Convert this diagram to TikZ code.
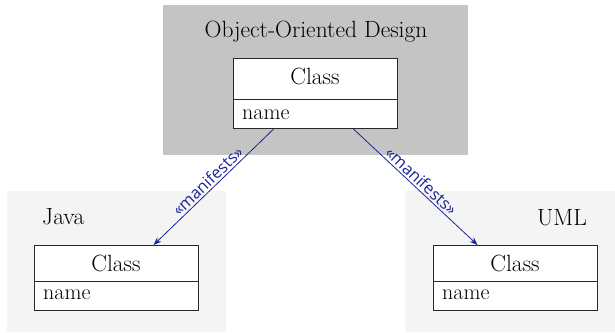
\documentclass[tikz,border=0pt]{standalone}
\usepackage{fontspec}
\newfontfamily\labelfont{Open Sans}
\usetikzlibrary{arrows.meta}
\definecolor{topbg}{RGB}{196,196,196}
\definecolor{sidebg}{RGB}{244,244,244}
\definecolor{mblue}{RGB}{28,36,150}
\definecolor{boxline}{RGB}{40,40,40}
\tikzset{
  classhead/.style={draw=boxline, line width=1.1pt, fill=white, minimum width=164pt, minimum height=41pt, inner sep=0pt, anchor=north west},
  classattr/.style={draw=boxline, line width=1.1pt, fill=white, minimum width=164pt, minimum height=29pt, inner sep=0pt, anchor=north west},
  headtext/.style={anchor=base, inner sep=0pt, font=\fontsize{23.5}{28}\selectfont},
  attrtext/.style={anchor=base west, inner sep=0pt, font=\fontsize{22}{26}\selectfont},
  title/.style={inner sep=0pt, font=\fontsize{23.5}{28}\selectfont},
  manifest/.style={-{Stealth[length=8pt,width=6pt]}, draw=mblue, line width=0.8pt},
  mlabel/.style={sloped, above, inner sep=2pt, text=mblue, font=\labelfont\fontsize{16.4}{20}\selectfont}
}
\begin{document}
\begin{tikzpicture}[x=1pt,y=-1pt]
\useasboundingbox (0,0) rectangle (615,332);
% backgrounds
\fill[topbg] (163,5) rectangle (468,155);
\fill[sidebg] (7,191) rectangle (226,332);
\fill[sidebg] (405,191) rectangle (615,332);
% titles
\node[title, anchor=base] (ttop) at (316,37) {Object-Oriented Design};
\node[title, anchor=base west] (tjava) at (42,224) {Java};
\node[title, anchor=base east] (tuml) at (587,225) {UML};
% top class
\node[classhead] (oh) at (233,58) {};
\node[headtext] (ohtext) at (315,84.5) {Class};
\node[classattr] (oa) at (233,99) {};
\node[attrtext] (oatext) at (242,119.5) {name};
% java class
\node[classhead] (jh) at (34,245) {};
\node[headtext] (jhtext) at (116,271) {Class};
\node[classattr] (ja) at (34,281) {};
\node[attrtext] (jatext) at (43,299.5) {name};
% uml class
\node[classhead] (uh) at (433,245) {};
\node[headtext] (uhtext) at (515,271) {Class};
\node[classattr] (ua) at (433,281) {};
\node[attrtext] (uatext) at (442,299.5) {name};
% connectors
\coordinate (ls) at ([xshift=-42pt]oa.south);
\coordinate (rs) at ([xshift=38pt]oa.south);
\coordinate (le) at ([xshift=37pt]jh.north);
\coordinate (re) at ([xshift=-38pt]uh.north);
\draw[manifest] (ls) -- node[mlabel, pos=0.5] {«manifests»} (le);
\draw[manifest] (rs) -- node[mlabel, pos=0.5] {«manifests»} (re);
\end{tikzpicture}
\end{document}
